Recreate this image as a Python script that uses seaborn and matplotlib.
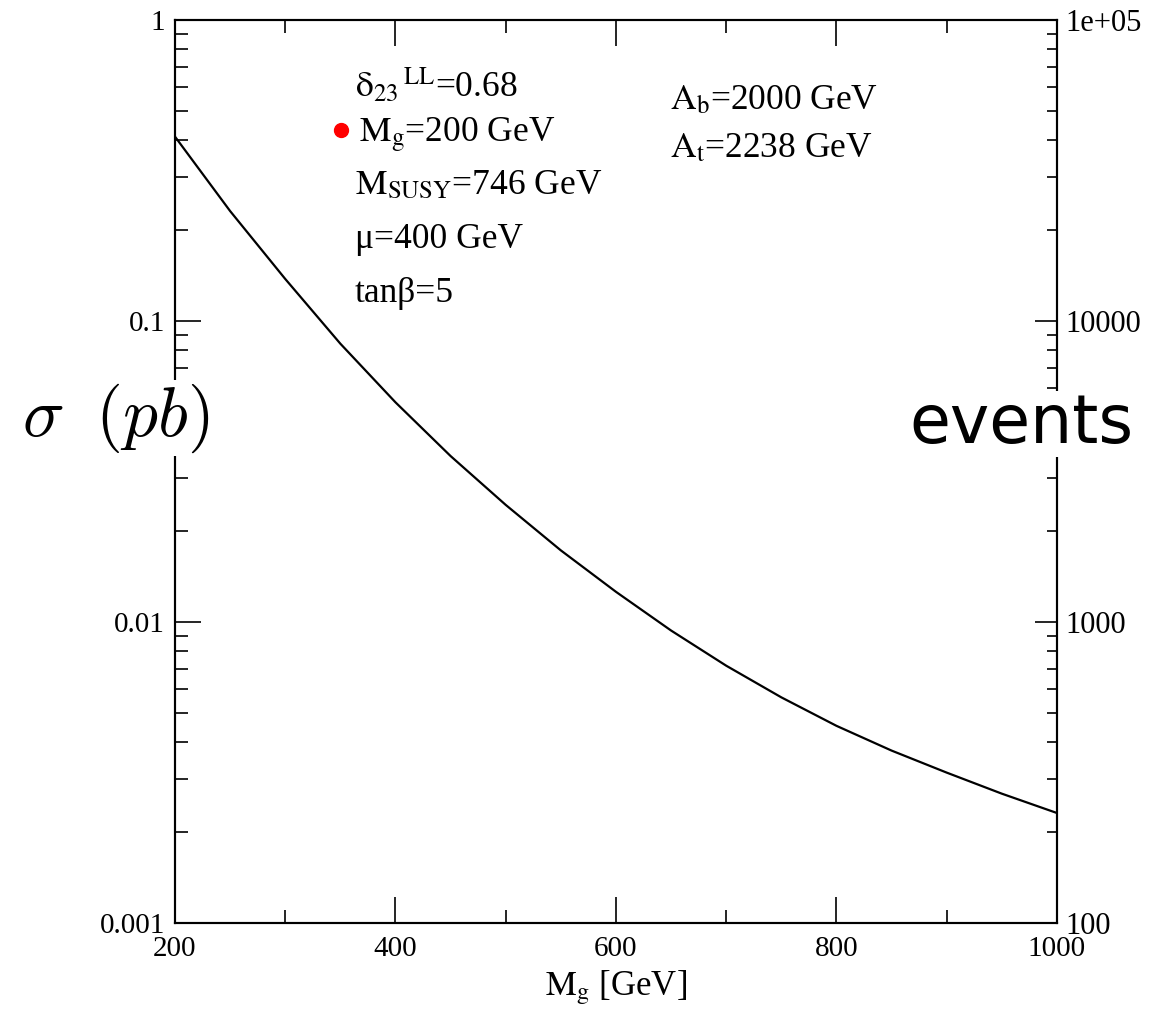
import matplotlib
matplotlib.use("Agg")
import pandas as pd
import matplotlib.pyplot as plt
import seaborn as sns
from matplotlib.lines import Line2D
from matplotlib.ticker import FixedLocator, FixedFormatter, LogLocator, MultipleLocator, NullFormatter

# values
mass_gev = [200, 250, 300, 350, 400, 450, 500, 550, 600, 650, 700, 750, 800, 850, 900, 950, 1000]
sigma_pb = [0.41, 0.232, 0.138, 0.0841, 0.0537, 0.0356, 0.0245, 0.0173, 0.0126, 0.00937,
            0.00716, 0.00562, 0.00452, 0.00374, 0.00316, 0.00269, 0.00232]

x_ticks = [200, 400, 600, 800, 1000]
x_tick_labels = ["200", "400", "600", "800", "1000"]
y_ticks = [0.001, 0.01, 0.1, 1]
y_tick_labels = ["0.001", "0.01", "0.1", "1"]
events_ticks = [100, 1000, 10000, 100000]
events_tick_labels = ["100", "1000", "10000", "1e+05"]

params_left = [r"$\mathrm{\delta_{23}{}^{\,LL}}$=0.68", None, r"$\mathrm{M_{SUSY}}$=746 GeV",
               "μ=400 GeV", "tanβ=5"]
params_right = [r"$\mathrm{A_b}$=2000 GeV", r"$\mathrm{A_t}$=2238 GeV"]

sns.set_theme(style="white")
plt.rcParams["font.family"] = ["Liberation Serif", "DejaVu Serif"]
plt.rcParams["mathtext.fontset"] = "stix"
plt.rcParams["text.color"] = "black"
plt.rcParams["axes.labelcolor"] = "black"

fig = plt.figure(figsize=(11.61, 10.17), dpi=100)
ax = fig.add_axes([0.1507, 0.0924, 0.7597, 0.8879])

df = pd.DataFrame({"mass": mass_gev, "sigma": sigma_pb})
sns.lineplot(data=df, x="mass", y="sigma", color="black", lw=1.6, ax=ax)

ax.set_yscale("log")
ax.set_xlim(200, 1000)
ax.set_ylim(1e-3, 1)
ax.xaxis.set_major_locator(FixedLocator(x_ticks))
ax.xaxis.set_major_formatter(FixedFormatter(x_tick_labels))
ax.xaxis.set_minor_locator(MultipleLocator(100))
ax.yaxis.set_major_locator(FixedLocator(y_ticks))
ax.yaxis.set_major_formatter(FixedFormatter(y_tick_labels))
ax.yaxis.set_minor_locator(LogLocator(base=10, subs=range(2, 10)))
ax.yaxis.set_minor_formatter(NullFormatter())
ax.tick_params(which="both", direction="in", top=True, right=False, left=True, bottom=True,
               colors="black", labelsize=21)
ax.tick_params(which="major", length=19, width=1.2, pad=7)
ax.tick_params(which="minor", length=9.5, width=1.2)
ax.tick_params(axis="x", pad=9)
for s in ax.spines.values():
    s.set_color("black")
    s.set_linewidth(1.5)
ax.set_xlabel(r"$\mathrm{M_g}$ [GeV]", fontsize=25, labelpad=5)
ax.set_ylabel("")

ax2 = ax.twinx()
ax2.set_yscale("log")
ax2.set_ylim(100, 1e5)
ax2.yaxis.set_major_locator(FixedLocator(events_ticks))
ax2.yaxis.set_major_formatter(FixedFormatter(events_tick_labels))
ax2.yaxis.set_minor_locator(LogLocator(base=10, subs=range(2, 10)))
ax2.yaxis.set_minor_formatter(NullFormatter())
ax2.tick_params(which="both", direction="in", right=True, colors="black", labelsize=22)
ax2.tick_params(which="major", length=16, width=1.2, pad=6)
ax2.tick_params(which="minor", length=7.5, width=1.2)
for s in ax2.spines.values():
    s.set_color("black")
    s.set_linewidth(1.5)

# parameter annotations
left_y = [0.928, 0.872, 0.817, 0.757, 0.697]
for txt, yy in zip(params_left, left_y):
    if txt:
        ax.text(0.204, yy, txt, transform=ax.transAxes, fontsize=25.5, ha="left", va="center")
for txt, yy in zip(params_right, [0.911, 0.858]):
    ax.text(0.561, yy, txt, transform=ax.transAxes, fontsize=25.5, ha="left", va="center")

dot = Line2D([0], [0], marker="o", color="red", ls="none", markersize=10)
ax2.legend(handles=[dot], labels=[r"$\mathrm{M_g}$=200 GeV"], loc="center left",
           bbox_to_anchor=(0.176, 0.872), bbox_transform=ax.transAxes, frameon=False,
           handlelength=0.6, handletextpad=0.2, borderpad=0, borderaxespad=0, fontsize=25.5)

fig.text(116 / 1161, 1 - 418 / 1017, r"$\sigma\;\;(pb)$", fontsize=50, math_fontfamily="cm",
         ha="center", va="center", bbox=dict(facecolor="white", edgecolor="none", pad=1))
fig.text(1021 / 1161, 1 - 443 / 1017, "events", fontsize=48, family="DejaVu Sans",
         ha="center", va="baseline", bbox=dict(facecolor="white", edgecolor="none", pad=0))

fig.savefig("out.png", dpi=100)
